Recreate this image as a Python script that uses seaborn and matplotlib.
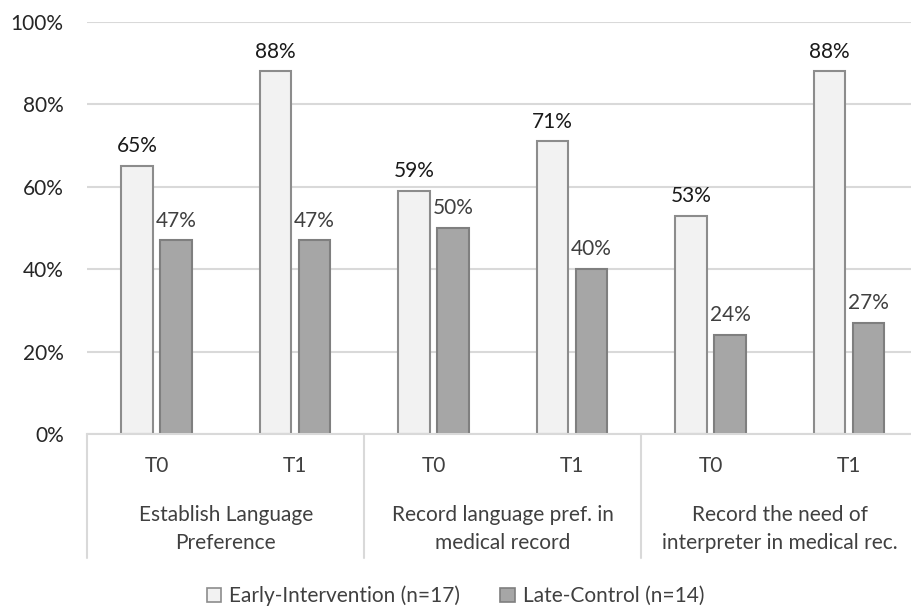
import matplotlib
matplotlib.use("Agg")
import matplotlib.pyplot as plt
from matplotlib.patches import Patch
from matplotlib.lines import Line2D
import seaborn as sns
import pandas as pd

# Survey results: share of encounters meeting each documentation step
measures = ["Establish Language\nPreference",
            "Record language pref. in\nmedical record",
            "Record the need of\ninterpreter in medical rec."]
timepoints = ["T0", "T1"]
groups = ["Early-Intervention (n=17)", "Late-Control (n=14)"]
early_values = [65, 88, 59, 71, 53, 88]
late_values = [47, 47, 50, 40, 24, 27]
y_ticks = [0, 20, 40, 60, 80, 100]

slots = [f"{m}|{t}" for m in measures for t in timepoints]
df = pd.DataFrame({
    "slot": slots * 2,
    "value": early_values + late_values,
    "group": [groups[0]] * len(slots) + [groups[1]] * len(slots),
})

sns.set_theme(style="white")
plt.rcParams["font.family"] = ["Lato", "DejaVu Sans"]
FS = 15

W, H = 911, 608
fig = plt.figure(figsize=(W / 100, H / 100), dpi=100)
ax_left, ax_right, ax_top, ax_bottom = 87.25, 918.25, 22, 434
ax = fig.add_axes([ax_left / W, 1 - ax_bottom / H,
                   (ax_right - ax_left) / W, (ax_bottom - ax_top) / H])

fills = {groups[0]: "#f2f2f2", groups[1]: "#a6a6a6"}
edges = {groups[0]: "#8c8c8c", groups[1]: "#7f7f7f"}
sns.barplot(data=df, x="slot", y="value", hue="group", order=slots,
            hue_order=groups, palette=fills, width=0.563, gap=0.18,
            saturation=1, legend=False, ax=ax, linewidth=1.5)

label_colors = ["#1a1a1a", "#404040"]
for cont, g, lc in zip(ax.containers, groups, label_colors):
    for bar in cont:
        bar.set_edgecolor(edges[g])
        bar.set_linewidth(1.5)
    ax.bar_label(cont, fmt="%.0f%%", padding=7, fontsize=FS, color=lc)

ax.set_ylim(0, 100)
ax.set_xlim(-0.5, len(slots) - 0.5)
ax.set_yticks(y_ticks)
ax.set_yticklabels([f"{v}%" for v in y_ticks], fontsize=FS, color="#262626")
ax.set_xticks(range(len(slots)))
ax.set_xticklabels(timepoints * len(measures), fontsize=FS, color="#404040")
ax.tick_params(axis="x", length=0, pad=16)
ax.tick_params(axis="y", length=0, pad=17)
ax.set_xlabel("")
ax.set_ylabel("")
ax.grid(axis="y", color="#d9d9d9", linewidth=1.5)
ax.set_axisbelow(True)
for s in ["top", "right", "left"]:
    ax.spines[s].set_visible(False)
ax.spines["bottom"].set_color("#d9d9d9")
ax.spines["bottom"].set_linewidth(1.5)

# Two-level category axis: group names and separators below the ticks
trans = ax.get_xaxis_transform()
sep_depth = (558 - ax_bottom) / (ax_bottom - ax_top)
for k in range(len(measures) + 1):
    x = -0.5 + 2 * k
    ax.add_line(Line2D([x, x], [0, -sep_depth], transform=trans,
                       color="#d9d9d9", linewidth=1.5, clip_on=False))
label_y = -(529 - ax_bottom) / (ax_bottom - ax_top)
for k, m in enumerate(measures):
    ax.text(0.5 + 2 * k, label_y, m, transform=trans, ha="center",
            va="center", fontsize=FS, color="#404040", linespacing=1.45)

handles = [Patch(facecolor=fills[g], edgecolor=edges[g], linewidth=1.2)
           for g in groups]
fig.legend(handles, groups, loc="center", bbox_to_anchor=(0.5, 1 - 596 / H),
           ncol=2, frameon=False, fontsize=FS, handlelength=0.7,
           handleheight=0.7, handletextpad=0.4, columnspacing=1.9,
           labelcolor="#404040")

fig.savefig("out.png", dpi=100)
